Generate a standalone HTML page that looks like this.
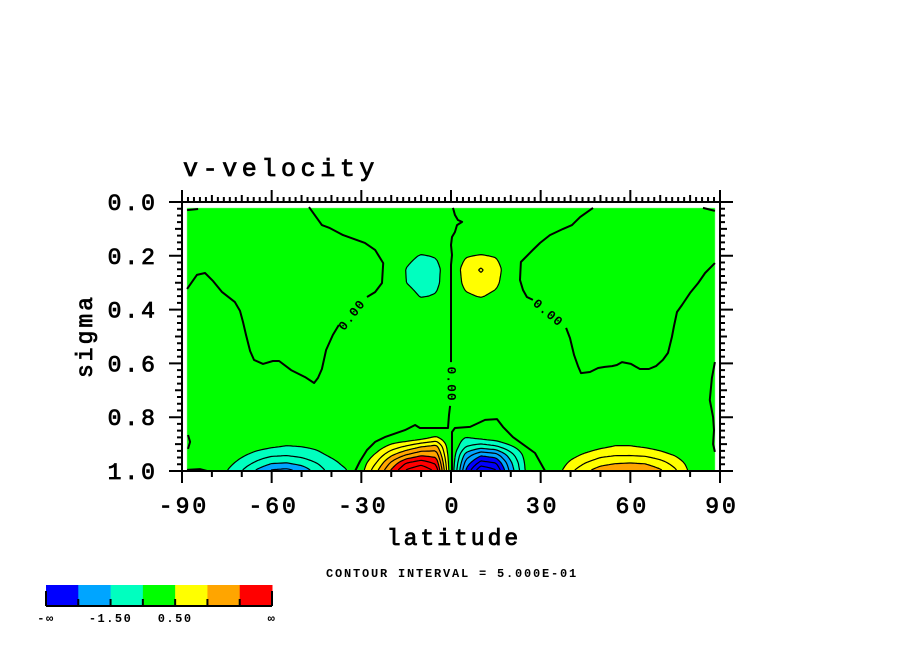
<!DOCTYPE html>
<html><head><meta charset="utf-8">
<style>
html,body{margin:0;padding:0;background:#fff;}
#wrap{position:relative;width:904px;height:654px;overflow:hidden;}
canvas,svg{position:absolute;left:0;top:0;}
text{font-family:"Liberation Mono",monospace;}
.big{stroke:#000;stroke-width:0.8;}
</style></head>
<body>
<div id="wrap">
<canvas id="cv" width="904" height="654"></canvas>
<svg id="sv" width="904" height="654"></svg>
</div>
<script>
// ---- data ----
const lats = [-90,-85,-80,-75,-70,-65,-60,-55,-50,-45,-40,-35,-30,-25,-20,-15,-10,-5,0,5,10,15,20,25,30,35,40,45,50,55,60,65,70,75,80,85,90];
const sigmaRows = [0,0.15,0.2,0.25,0.3,0.35,0.4,0.85,0.88,0.91,0.94,0.97,1.0];
const row000 = [0,0,0,0,0,0,0,0,0,0,0,0,0,0,0,0,0,0,0,0,0,0,0,0,0,0,0,0,0,0,0,0,0,0,0,0,0];
const row015 = [0,0,0,0,0,0,0,0,0,0,0,0,0,0,0,0,0,0,0,0,0,0,0,0,0,0,0,0,0,0,0,0,0,0,0,0,0];
const row020 = [0,0,0,0,0,0,0,0,0,0,0,0,0,0,0,-0.3,-0.55,-0.45,0,0.45,0.55,0.45,0,0,0,0,0,0,0,0,0,0,0,0,0,0,0];
const row025 = [0,0,0,0,0,0,0,0,0,0,0,0,0,0,0,-0.52,-0.85,-0.7,0,0.8,1.05,0.8,0,0,0,0,0,0,0,0,0,0,0,0,0,0,0];
const row030 = [0,0,0,0,0,0,0,0,0,0,0,0,0,0,0,-0.5,-0.8,-0.65,0,0.7,0.85,0.65,0,0,0,0,0,0,0,0,0,0,0,0,0,0,0];
const row035 = [0,0,0,0,0,0,0,0,0,0,0,0,0,0,0,-0.2,-0.55,-0.45,0,0.4,0.55,0.35,0,0,0,0,0,0,0,0,0,0,0,0,0,0,0];
const row040 = [0,0,0,0,0,0,0,0,0,0,0,0,0,0,0,0,0,0,0,0,0,0,0,0,0,0,0,0,0,0,0,0,0,0,0,0,0];
const row085 = [0,0,0,0,0,0,0,0,0,0,0,0,0,0,0,0,0,0,0,0,0,0,0,0,0,0,0,0,0,0,0,0,0,0,0,0,0];
const row088 = [0,0,0,0,0,0,0,-0.2,-0.2,0,0,0,0,0,0.1,0.2,0.4,0.7,0,-0.6,-0.45,-0.3,0,0,0,0,0,0,0,0.2,0.2,0,0,0,0,0,0];
const row091 = [0,0,0,0,-0.1,-0.3,-0.45,-0.55,-0.5,-0.4,-0.2,0,0,0.2,0.7,1.1,1.5,1.7,0,-1.0,-1.3,-1.1,-0.6,-0.1,0,0,0.05,0.2,0.4,0.55,0.55,0.45,0.3,0.1,0,0,0];
const row094 = [0,0,0,-0.1,-0.4,-0.7,-0.9,-0.95,-0.85,-0.65,-0.4,-0.2,0,0.6,1.4,2.0,2.4,2.3,0,-1.7,-2.4,-2.2,-1.2,-0.3,0,0,0.3,0.6,0.85,0.95,0.95,0.9,0.7,0.45,0.1,0,0];
const row097 = [0,0,-0.1,-0.3,-0.7,-1.1,-1.45,-1.5,-1.3,-1.0,-0.65,-0.35,0.2,1.0,2.1,3.0,3.3,2.9,0,-2.2,-3.2,-3.0,-1.6,-0.4,0,0.1,0.6,1.0,1.3,1.45,1.5,1.45,1.2,0.8,0.3,0,0];
const row100 = [0,-0.1,-0.3,-0.5,-1.0,-1.6,-2.1,-2.2,-1.9,-1.3,-0.8,-0.55,0.3,1.4,2.6,3.6,4.0,3.4,0,-2.6,-4.0,-3.6,-1.8,-0.45,0,0.2,0.9,1.4,1.8,2.0,2.0,1.9,1.6,1.1,0.4,0,0];
const gridRows = [row000,row015,row020,row025,row030,row035,row040,row085,row088,row091,row094,row097,row100];

const levelBounds = [-2.5,-1.5,-0.5,0.5,1.5,2.5];
const binColors = ["#0000ff","#00a5ff","#00ffbf","#00ff00","#ffff00","#ffa500","#ff0000"];
const contourLevels = [-4,-3.5,-3,-2.5,-2,-1.5,-1,-0.5,0.5,1,1.5,2,2.5,3,3.5,4];

const xTickVals = [-90,-60,-30,0,30,60,90];
const xTickLabels = ["-90","-60","-30","0","30","60","90"];
const yTickVals = [0,0.2,0.4,0.6,0.8,1.0];
const yTickLabels = ["0.0","0.2","0.4","0.6","0.8","1.0"];
const cbLabels = ["-\u221e","-1.50","0.50","\u221e"];

// zero contour polylines (lat, sigma)
const z1aLat = [-88.3,-85.0,-82.3,-79.6,-76.6,-72.3,-70.6,-69.6,-68.6,-67.2,-65.9,-62.9,-59.6,-57.5,-53.5,-48.8,-45.8,-44.5,-43.2,-41.8,-39.5,-37.5];
const z1aSig = [.323,.271,.264,.294,.335,.372,.405,.446,.494,.554,.587,.602,.591,.591,.625,.651,.673,.654,.621,.550,.494,.457];
const z1bLat = [-28.1,-25.4,-23.1,-22.7,-25.4,-28.8,-36.1,-40.5,-43.2,-47.5];
const z1bSig = [.353,.335,.301,.227,.178,.152,.123,.097,.086,.019];
const z2aLat = [47.5,43.2,40.5,37.5,33.1,29.8,27.4,23.4,23.1,24.1,25.4,27.4];
const z2aSig = [.022,.056,.086,.100,.123,.152,.178,.223,.290,.327,.353,.364];
const z2bLat = [38.5,39.8,41.2,42.5,43.5,46.5,49.2,51.5,53.9,55.5,57.2,60.2,63.2,66.2,68.6,70.9,72.6,73.9,74.6,75.6,77.3,80.0,82.7,85.0,88.3];
const z2bSig = [.468,.506,.569,.610,.636,.632,.617,.613,.610,.606,.595,.602,.621,.621,.610,.587,.561,.502,.461,.409,.383,.338,.301,.264,.227];
const z3Lat = [84.3,88.3]; const z3Sig = [.022,.033];
const z4Lat = [-88.3,-84.6]; const z4Sig = [.030,.026];
const z5Lat = [88.3,87.3,86.6,87.7,88.0,87.7,88.3]; const z5Sig = [.595,.654,.736,.800,.848,.900,.929];
const z6Lat = [-88.0,-87.3,-88.0]; const z6Sig = [.866,.892,.918];
const z7Lat = [-88.3,-84.0,-81.6]; const z7Sig = [.996,.993,1.0];
const zc1Lat = [.67,1.3,2.3,3.7,2.0,1.3,.33,0,.33,0,0]; const zc1Sig = [.022,.048,.067,.074,.086,.112,.130,.160,.197,.234,.595];
const zc2Lat = [-0.3,-0.67,-1.0,-10.4,-12.0,-15.4,-22.1,-25.4,-28.1,-30.4,-32.1]; const zc2Sig = [.758,.792,.840,.840,.829,.848,.874,.892,.922,.963,1.0];
const zc3Lat = [.33,.33,1.3,6.4,11.4,15.4,17.4,20.7,28.1,31.5]; const zc3Sig = [1.0,.855,.840,.836,.810,.807,.836,.874,.933,1.0];
const zeroLines = [[z1aLat,z1aSig],[z1bLat,z1bSig],[z2aLat,z2aSig],[z2bLat,z2bSig],[z3Lat,z3Sig],[z4Lat,z4Sig],[z5Lat,z5Sig],[z6Lat,z6Sig],[z7Lat,z7Sig],[zc1Lat,zc1Sig],[zc2Lat,zc2Sig],[zc3Lat,zc3Sig]];
const zeroLabelLat = [-33.2,32.5,0.2]; const zeroLabelSig = [0.420,0.412,0.677]; const zeroLabelRot = [-52,40,90];

// ---- axes ----
const X0=182,X1=720,Y0=202,Y1=471;
function xOf(lat){return X0+(lat+90)*(X1-X0)/180;}
function yOf(s){return Y0+s*(Y1-Y0);}
function latOf(x){return (x-X0)*180/(X1-X0)-90;}
function sigOf(y){return (y-Y0)/(Y1-Y0);}
const FL0=-88.3,FL1=88.3,FS0=0.022,FS1=1.0;

function valueAt(lat,s){
  let i=Math.floor((lat+90)/5); if(i<0)i=0; if(i>lats.length-2)i=lats.length-2;
  const tx=(lat-lats[i])/5;
  let j=0; while(j<sigmaRows.length-2 && s>sigmaRows[j+1]) j++;
  const ty=Math.max(0,Math.min(1,(s-sigmaRows[j])/(sigmaRows[j+1]-sigmaRows[j])));
  const a=gridRows[j][i]*(1-tx)+gridRows[j][i+1]*tx;
  const b=gridRows[j+1][i]*(1-tx)+gridRows[j+1][i+1]*tx;
  return a*(1-ty)+b*ty;
}
function binOf(v){let k=0;while(k<levelBounds.length&&v>=levelBounds[k])k++;return k;}
function hex(c){return [parseInt(c.substr(1,2),16),parseInt(c.substr(3,2),16),parseInt(c.substr(5,2),16)];}

// fill
const cv=document.getElementById('cv'),ctx=cv.getContext('2d');
const px0=Math.round(xOf(FL0)),px1=Math.round(xOf(FL1)),py0=Math.round(yOf(FS0)),py1=Math.round(yOf(FS1));
const img=ctx.createImageData(px1-px0,py1-py0);
const rgb=binColors.map(hex);
for(let y=py0;y<py1;y++)for(let x=px0;x<px1;x++){
  const c=rgb[binOf(valueAt(latOf(x+0.5),sigOf(y+0.5)))];
  const o=((y-py0)*(px1-px0)+(x-px0))*4;
  img.data[o]=c[0];img.data[o+1]=c[1];img.data[o+2]=c[2];img.data[o+3]=255;
}
ctx.putImageData(img,px0,py0);

// overlay
const NS="http://www.w3.org/2000/svg";
const sv=document.getElementById('sv');
function mk(tag,attrs,parent){const e=document.createElementNS(NS,tag);for(const k in attrs)e.setAttribute(k,attrs[k]);(parent||sv).appendChild(e);return e;}

// contour lines via marching squares
const step=2;
const gx=[],gy=[];
for(let x=px0;x<=px1;x+=step)gx.push(x);
for(let y=py0;y<=py1;y+=step)gy.push(y);
const G=gy.map(y=>gx.map(x=>valueAt(latOf(x),sigOf(Math.min(y,py1)))));
contourLevels.forEach(L=>{
  let d="";
  for(let j=0;j<gy.length-1;j++)for(let i=0;i<gx.length-1;i++){
    const v=[G[j][i],G[j][i+1],G[j+1][i+1],G[j+1][i]];
    const p=[[gx[i],gy[j]],[gx[i+1],gy[j]],[gx[i+1],gy[j+1]],[gx[i],gy[j+1]]];
    const pts=[];
    for(let e=0;e<4;e++){const a=v[e],b=v[(e+1)%4];
      if((a<L)!==(b<L)){const t=(L-a)/(b-a);const A=p[e],B=p[(e+1)%4];pts.push([A[0]+(B[0]-A[0])*t,A[1]+(B[1]-A[1])*t]);}}
    for(let k=0;k+1<pts.length;k+=2)d+="M"+pts[k][0].toFixed(1)+" "+pts[k][1].toFixed(1)+"L"+pts[k+1][0].toFixed(1)+" "+pts[k+1][1].toFixed(1);
  }
  if(d){const pth=mk('path',{d:d,fill:'none',stroke:'#000','stroke-width':1.2});
    
    
    if(L<0)pth.setAttribute('stroke-dasharray','4 3');}
});

// zero contours
zeroLines.forEach(zl=>{
  const d=zl[0].map((la,k)=>(k?"L":"M")+xOf(la).toFixed(1)+" "+yOf(zl[1][k]).toFixed(1)).join("");
  const pth=mk('path',{d:d,fill:'none',stroke:'#000','stroke-width':2,'stroke-linejoin':'round'});
  
  
});
zeroLabelLat.forEach((la,k)=>{
  const x=xOf(la),y=yOf(zeroLabelSig[k]);
  const t=mk('text',{x:x,y:y+4,'text-anchor':'middle','font-size':13,'font-weight':'bold','letter-spacing':'1',transform:'rotate('+zeroLabelRot[k]+' '+x+' '+y+')'});
  t.textContent="0.00";
  
  
});

// frame
const fr=mk('rect',{x:X0,y:Y0,width:X1-X0,height:Y1-Y0,fill:'none',stroke:'#000','stroke-width':2});



// ticks
let td="";
for(let lat=-90;lat<=90;lat+=2){const x=xOf(lat);const maj=lat%30===0,med=lat%10===0;
  const lt=maj?12:(med?7:5);
  td+="M"+x+" "+Y0+"v"+(-lt);
  if(med||maj)td+="M"+x+" "+Y1+"v"+(maj?12:6);
}
for(let k=0;k<=40;k++){const s=k*0.025,y=yOf(s);const maj=k%8===0,med=k%4===0;
  const lt=maj?13:(med?7:5);
  td+="M"+X0+" "+y+"h"+(-lt)+"M"+X1+" "+y+"h"+lt;
}
const tk=mk('path',{d:td,stroke:'#000','stroke-width':2,fill:'none'});



xTickVals.forEach((v,k)=>{
  const t=mk('text',{x:xOf(v)+2,y:513,'text-anchor':'middle','font-size':23,'letter-spacing':'3',class:'big'});
  t.textContent=xTickLabels[k];
  
  
});
yTickVals.forEach((v,k)=>{
  const t=mk('text',{x:158,y:yOf(v)+8,'text-anchor':'end','font-size':23,'letter-spacing':'3',class:'big'});
  t.textContent=yTickLabels[k];
  
  
});
let t=mk('text',{x:454,y:545,'text-anchor':'middle','font-size':23,'letter-spacing':'3',class:'big'});
t.textContent="latitude";


t=mk('text',{x:92,y:336,'text-anchor':'middle','font-size':23,'letter-spacing':'3',class:'big',transform:'rotate(-90 92 336)'});
t.textContent="sigma";


t=mk('text',{x:183,y:176,'font-size':25,'letter-spacing':'4.6',class:'big'});
t.textContent="v-velocity";


t=mk('text',{x:452,y:577,'text-anchor':'middle','font-size':12,'font-weight':'bold','letter-spacing':'1.8'});
t.textContent="CONTOUR INTERVAL = 5.000E-01";



// colorbar
const cbX=46,cbW=226,cbY=585,cbH=21;
binColors.forEach((c,k)=>{
  const r=mk('rect',{x:cbX+k*cbW/7,y:cbY,width:cbW/7+0.5,height:cbH,fill:c});
  
  
});
let cbd="M"+cbX+" "+(cbY+cbH)+"h"+cbW;
for(let k=0;k<=7;k++)cbd+="M"+(cbX+k*cbW/7)+" "+(cbY+cbH)+"v"+(k===0||k===7?-15:-7);
const cbp=mk('path',{d:cbd,stroke:'#000','stroke-width':2,fill:'none'});


const cbLabelX=[cbX,cbX+2*cbW/7,cbX+4*cbW/7,cbX+cbW];
cbLabels.forEach((s,k)=>{
  const tt=mk('text',{x:cbLabelX[k],y:622,'text-anchor':'middle','font-size':12,'font-weight':'bold','letter-spacing':'1.5'});
  tt.textContent=s;
  
  
});
</script>
</body></html>
